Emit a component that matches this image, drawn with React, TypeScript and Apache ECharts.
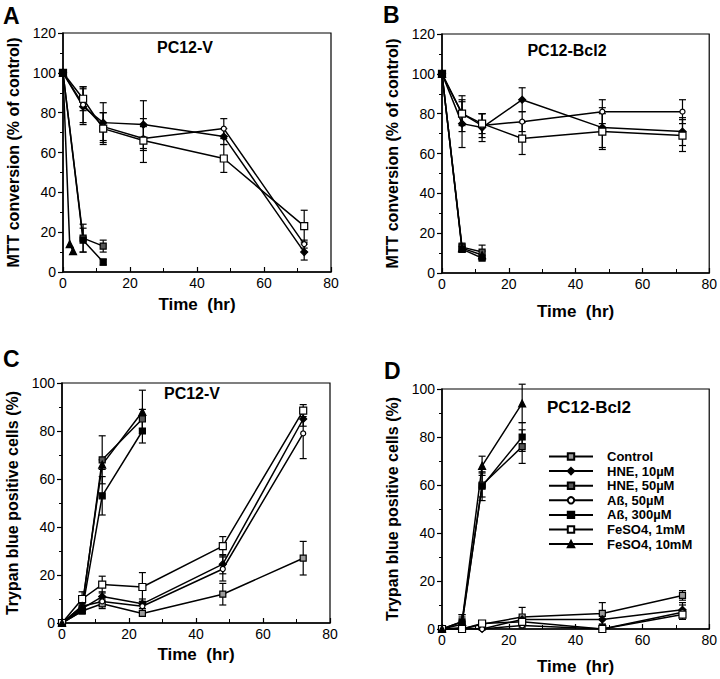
import React, { useEffect, useRef } from "react";
import * as echarts from "echarts";

// ---- time points ----
const TIMES = [0, 6, 12, 24, 48, 72];
const TIMES_12 = [0, 6, 12];
const TIMES_FAST = [0, 2, 3];
const TIMES_24 = [0, 6, 12, 24];

const NAMES = ["Control", "HNE, 10µM", "HNE, 50µM", "Aß, 50µM", "Aß, 300µM", "FeSO4, 1mM", "FeSO4, 10mM"];

// ---- Panel A (MTT, PC12-V) ----
const A_HNE10 = [100, 83, 75, 74, 68, 10];
const A_HNE10_ERR = [0, 9, 10, 12, 4, 4];
const A_AB50 = [100, 84, 73, 67, 72, 14];
const A_AB50_ERR = [0, 9, 7, 6, 5, 2];
const A_FE1 = [100, 87, 72, 66, 57, 23];
const A_FE1_ERR = [0, 6, 8, 11, 7, 8];
const A_HNE50 = [100, 17, 13];
const A_HNE50_ERR = [0, 7, 3];
const A_AB300 = [100, 16, 5];
const A_AB300_ERR = [0, 6, 1.5];
const A_FE10 = [100, 14, 10.5];
const A_FE10_ERR = [0, 0, 0];

// ---- Panel B (MTT, PC12-Bcl2) ----
const B_HNE10 = [100, 75, 73, 87, 73, 71];
const B_HNE10_ERR = [0, 12, 7, 6, 10, 7];
const B_AB50 = [100, 80, 74, 76, 81, 81];
const B_AB50_ERR = [0, 6, 6, 5, 6, 6];
const B_FE1 = [100, 80, 75, 67.5, 71, 69];
const B_FE1_ERR = [0, 9, 5, 8, 9, 8];
const B_HNE50 = [100, 13, 10.5];
const B_HNE50_ERR = [0, 2, 3.5];
const B_AB300 = [100, 12, 7.5];
const B_AB300_ERR = [0, 1.5, 1];
const B_FE10 = [100, 12.5, 9];
const B_FE10_ERR = [0, 2, 2];

// ---- Panel C (Trypan blue, PC12-V) ----
const C_CTRL = [0, 5, 8, 4, 12, 27];
const C_CTRL_ERR = [0, 1, 2, 1, 4.5, 7];
const C_HNE10 = [0, 6, 11, 8, 24.5, 85];
const C_HNE10_ERR = [0, 2, 2, 2, 4, 3];
const C_AB50 = [0, 7, 9, 7, 22.5, 79];
const C_AB50_ERR = [0, 2, 2, 2, 5, 10.5];
const C_FE1 = [0, 10, 16, 15, 32, 88.5];
const C_FE1_ERR = [0, 3, 3.5, 6, 4, 2.5];
const C_HNE50 = [0, 6, 68, 85];
const C_HNE50_ERR = [0, 2, 10, 4];
const C_AB300 = [0, 5, 53, 80];
const C_AB300_ERR = [0, 1, 8, 5];
const C_FE10 = [0, 7, 66, 88];
const C_FE10_ERR = [0, 2, 2, 9];

// ---- Panel D (Trypan blue, PC12-Bcl2) ----
const D_CTRL = [0, 0, 2, 5, 6.5, 14];
const D_CTRL_ERR = [0, 1, 1, 4, 4.5, 2];
const D_HNE10 = [0, 0.5, 0, 4, 4, 8];
const D_HNE10_ERR = [0, 0.5, 0.5, 1, 2, 3];
const D_AB50 = [0, 0, 0, 1.5, 0, 7];
const D_AB50_ERR = [0, 0, 0, 1, 0, 3];
const D_FE1 = [0, 0, 2.3, 3, 0, 6];
const D_FE1_ERR = [0, 0, 1, 1, 0, 2];
const D_HNE50 = [0, 2, 60, 76];
const D_HNE50_ERR = [0, 3, 5, 7];
const D_AB300 = [0, 3, 59.5, 80];
const D_AB300_ERR = [0, 3, 6, 6];
const D_FE10 = [0, 3, 68, 94];
const D_FE10_ERR = [0, 3, 4, 8];

type S = { name: string; t: number[]; v: number[]; e: number[] };

const PANELS: { letter: string; title: string; ylabel: string; ymax: number; series: S[] }[] = [
  {
    letter: "A", title: "PC12-V", ylabel: "MTT conversion (% of control)", ymax: 120,
    series: [
      { name: NAMES[1], t: TIMES, v: A_HNE10, e: A_HNE10_ERR },
      { name: NAMES[3], t: TIMES, v: A_AB50, e: A_AB50_ERR },
      { name: NAMES[5], t: TIMES, v: A_FE1, e: A_FE1_ERR },
      { name: NAMES[2], t: TIMES_12, v: A_HNE50, e: A_HNE50_ERR },
      { name: NAMES[4], t: TIMES_12, v: A_AB300, e: A_AB300_ERR },
      { name: NAMES[6], t: TIMES_FAST, v: A_FE10, e: A_FE10_ERR },
    ],
  },
  {
    letter: "B", title: "PC12-Bcl2", ylabel: "MTT conversion (% of control)", ymax: 120,
    series: [
      { name: NAMES[1], t: TIMES, v: B_HNE10, e: B_HNE10_ERR },
      { name: NAMES[3], t: TIMES, v: B_AB50, e: B_AB50_ERR },
      { name: NAMES[5], t: TIMES, v: B_FE1, e: B_FE1_ERR },
      { name: NAMES[2], t: TIMES_12, v: B_HNE50, e: B_HNE50_ERR },
      { name: NAMES[4], t: TIMES_12, v: B_AB300, e: B_AB300_ERR },
      { name: NAMES[6], t: TIMES_12, v: B_FE10, e: B_FE10_ERR },
    ],
  },
  {
    letter: "C", title: "PC12-V", ylabel: "Trypan blue positive cells (%)", ymax: 100,
    series: [
      { name: NAMES[0], t: TIMES, v: C_CTRL, e: C_CTRL_ERR },
      { name: NAMES[1], t: TIMES, v: C_HNE10, e: C_HNE10_ERR },
      { name: NAMES[2], t: TIMES_24, v: C_HNE50, e: C_HNE50_ERR },
      { name: NAMES[3], t: TIMES, v: C_AB50, e: C_AB50_ERR },
      { name: NAMES[4], t: TIMES_24, v: C_AB300, e: C_AB300_ERR },
      { name: NAMES[5], t: TIMES, v: C_FE1, e: C_FE1_ERR },
      { name: NAMES[6], t: TIMES_24, v: C_FE10, e: C_FE10_ERR },
    ],
  },
  {
    letter: "D", title: "PC12-Bcl2", ylabel: "Trypan blue positive cells (%)", ymax: 100,
    series: [
      { name: NAMES[0], t: TIMES, v: D_CTRL, e: D_CTRL_ERR },
      { name: NAMES[1], t: TIMES, v: D_HNE10, e: D_HNE10_ERR },
      { name: NAMES[2], t: TIMES_24, v: D_HNE50, e: D_HNE50_ERR },
      { name: NAMES[3], t: TIMES, v: D_AB50, e: D_AB50_ERR },
      { name: NAMES[4], t: TIMES_24, v: D_AB300, e: D_AB300_ERR },
      { name: NAMES[5], t: TIMES, v: D_FE1, e: D_FE1_ERR },
      { name: NAMES[6], t: TIMES_24, v: D_FE10, e: D_FE10_ERR },
    ],
  },
];

const MARK: Record<string, { symbol: string; size: number; fill: string }> = {
  "Control": { symbol: "rect", size: 6, fill: "#9a9a9a" },
  "HNE, 10µM": { symbol: "diamond", size: 7, fill: "#000" },
  "HNE, 50µM": { symbol: "rect", size: 6, fill: "#555" },
  "Aß, 50µM": { symbol: "circle", size: 5, fill: "#fff" },
  "Aß, 300µM": { symbol: "rect", size: 6, fill: "#000" },
  "FeSO4, 1mM": { symbol: "rect", size: 7, fill: "#fff" },
  "FeSO4, 10mM": { symbol: "triangle", size: 7, fill: "#000" },
};

const FONT = "'Liberation Sans', Arial, Helvetica, sans-serif";

// layout
const GRIDS = [
  { left: 63, top: 33, width: 268, height: 239, yGap: 42, xGap: 24, titleX: 185, titleY: 47, letterX: 3, letterY: 4, titleSize: 16 },
  { left: 442, top: 34, width: 268, height: 239, yGap: 42, xGap: 30, titleX: 567, titleY: 50, letterX: 383, letterY: 3, titleSize: 16 },
  { left: 62, top: 383, width: 268, height: 240, yGap: 42, xGap: 23, titleX: 192, titleY: 393, letterX: 3, letterY: 347, titleSize: 16 },
  { left: 442, top: 389, width: 268, height: 240, yGap: 42, xGap: 29, titleX: 589, titleY: 407, letterX: 384, letterY: 359, titleSize: 17 },
];

export default function App() {
  const ref = useRef<HTMLDivElement>(null);
  useEffect(() => {
    if (!ref.current) return;
    const chart = echarts.init(ref.current, undefined, { renderer: "svg" });

    const grid: any[] = [];
    const xAxis: any[] = [];
    const yAxis: any[] = [];
    const series: any[] = [];
    const graphic: any[] = [];

    PANELS.forEach((p, i) => {
      const g = GRIDS[i];
      grid.push({
        left: g.left, top: g.top, width: g.width, height: g.height,
        show: true, borderColor: "#000", borderWidth: 1.2, backgroundColor: "transparent",
      });
      xAxis.push({
        type: "value", gridIndex: i, min: 0, max: 80, interval: 20,
        name: "Time  (hr)", nameLocation: "middle", nameGap: g.xGap,
        nameTextStyle: { fontFamily: FONT, fontWeight: "bold", fontSize: 17, color: "#000" },
        axisLine: { lineStyle: { color: "#000", width: 1.5 } },
        axisTick: { inside: true, length: 5, lineStyle: { color: "#000", width: 1.2 } },
        minorTick: { show: true, splitNumber: 2, length: 4, lineStyle: { color: "#000", width: 1 } },
        axisLabel: { fontFamily: FONT, fontSize: 14, color: "#000", margin: 4 },
        splitLine: { show: false },
      });
      yAxis.push({
        type: "value", gridIndex: i, min: 0, max: p.ymax, interval: 20,
        name: p.ylabel, nameLocation: "middle", nameGap: g.yGap,
        nameTextStyle: { fontFamily: FONT, fontWeight: "bold", fontSize: 16, color: "#000" },
        axisLine: { lineStyle: { color: "#000", width: 1.5 } },
        axisTick: { inside: false, length: 5, lineStyle: { color: "#000", width: 1.2 } },
        minorTick: { show: true, splitNumber: 2, length: 3, lineStyle: { color: "#000", width: 1 } },
        axisLabel: { fontFamily: FONT, fontSize: 14, color: "#000", margin: 7 },
        splitLine: { show: false },
      });

      const errData: number[][] = [];
      p.series.forEach((s) => {
        const m = MARK[s.name];
        series.push({
          type: "line", name: s.name, xAxisIndex: i, yAxisIndex: i, z: 3,
          data: s.t.map((t, k) => [t, s.v[k]]),
          symbol: m.symbol, symbolSize: m.size, showSymbol: true,
          lineStyle: { color: "#000", width: 1.5 },
          itemStyle: { color: m.fill, borderColor: "#000", borderWidth: 1.2 },
          emphasis: { disabled: true },
        });
        s.t.forEach((t, k) => {
          if (s.e[k] > 0) errData.push([t, s.v[k] - s.e[k], s.v[k] + s.e[k]]);
        });
      });
      series.push({
        type: "custom", xAxisIndex: i, yAxisIndex: i, z: 2,
        data: errData,
        encode: { x: 0, y: [1, 2] },
        renderItem: (params: any, api: any) => {
          const x = api.value(0);
          const lo = api.coord([x, api.value(1)]);
          const hi = api.coord([x, api.value(2)]);
          const w = 3.5;
          const st = { stroke: "#000", lineWidth: 1.2 };
          return {
            type: "group",
            children: [
              { type: "line", shape: { x1: lo[0], y1: lo[1], x2: hi[0], y2: hi[1] }, style: st },
              { type: "line", shape: { x1: lo[0] - w, y1: lo[1], x2: lo[0] + w, y2: lo[1] }, style: st },
              { type: "line", shape: { x1: hi[0] - w, y1: hi[1], x2: hi[0] + w, y2: hi[1] }, style: st },
            ],
          };
        },
      });

      graphic.push({
        type: "text", left: g.letterX, top: g.letterY,
        style: { text: p.letter, fontFamily: FONT, fontWeight: "bold", fontSize: 23, fill: "#000" },
      });
      graphic.push({
        type: "text", x: g.titleX, y: g.titleY,
        style: { text: p.title, fontFamily: FONT, fontWeight: "bold", fontSize: g.titleSize, fill: "#000", align: "center", verticalAlign: "middle" },
      });
    });

    chart.setOption({
      animation: false,
      backgroundColor: "#fff",
      grid, xAxis, yAxis, series, graphic,
      legend: {
        show: true, orient: "vertical", left: 543, top: 445,
        data: NAMES, selectedMode: false,
        itemWidth: 44, itemHeight: 8, itemGap: 1.6,
        formatter: (n: string) => "{g|}{a|" + n + "}",
        textStyle: {
          fontFamily: FONT, fontWeight: "bold", fontSize: 13, color: "#000",
          rich: {
            g: { width: 9, height: 13 },
            a: { fontFamily: FONT, fontWeight: "bold", fontSize: 13, color: "#000", lineHeight: 13 },
          },
        },
      },
    });
    return () => chart.dispose();
  }, []);
  return <div ref={ref} style={{ position: "absolute", left: 0, top: 0, width: 720, height: 679 }} />;
}
